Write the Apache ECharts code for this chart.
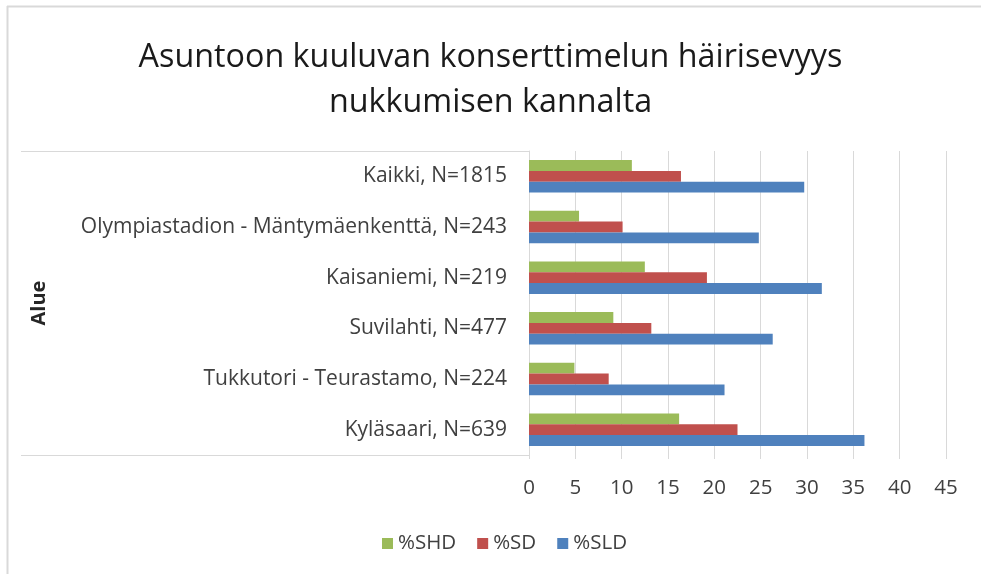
<!DOCTYPE html>
<html>
<head>
<meta charset="utf-8">
<script src="https://cdn.jsdelivr.net/npm/echarts@6/dist/echarts.min.js"></script>
<style>
html,body{margin:0;padding:0;background:#fff;}
#c{width:981px;height:574px;}
</style>
</head>
<body>
<div id="c"></div>
<script>
const categories = [
  'Kaikki, N=1815',
  'Olympiastadion - Mäntymäenkenttä, N=243',
  'Kaisaniemi, N=219',
  'Suvilahti, N=477',
  'Tukkutori - Teurastamo, N=224',
  'Kyläsaari, N=639'
];
const seriesNames = ['%SHD', '%SD', '%SLD'];
const shd = [11.1, 5.4, 12.5, 9.1, 4.9, 16.2];
const sd  = [16.4, 10.1, 19.2, 13.2, 8.6, 22.5];
const sld = [29.7, 24.8, 31.6, 26.3, 21.1, 36.2];
const xTicks = [0, 5, 10, 15, 20, 25, 30, 35, 40, 45];

const colors = ['#9BBB59', '#C0504D', '#4F81BD'];
const FONT = '"Open Sans", "Noto Sans", sans-serif';
const chart = echarts.init(document.getElementById('c'), null, {renderer: 'canvas'});

const borderColor = '#d9d9d9';
chart.setOption({
  animation: false,
  color: colors,
  textStyle: {fontFamily: FONT},
  title: {
    text: 'Asuntoon kuuluvan konserttimelun häirisevyys\nnukkumisen kannalta',
    left: 'center',
    top: 30,
    textStyle: {fontFamily: FONT, fontSize: 32.3, fontWeight: 'normal', color: '#1a1a1a', lineHeight: 45}
  },
  legend: {
    data: seriesNames,
    left: 377,
    top: 528,
    icon: 'rect',
    itemWidth: 11,
    itemHeight: 11,
    itemGap: 21,
    textStyle: {fontFamily: FONT, fontSize: 20.5, color: '#404040'}
  },
  grid: {left: 529, right: 35, top: 151, bottom: 119, containLabel: false},
  xAxis: {
    type: 'value',
    min: xTicks[0],
    max: xTicks[xTicks.length - 1],
    interval: 5,
    axisLine: {show: false},
    axisTick: {show: true, length: 4, lineStyle: {color: borderColor}},
    splitLine: {show: true, lineStyle: {color: borderColor, width: 1}},
    axisLabel: {fontFamily: FONT, fontSize: 20.5, color: '#404040', margin: 23}
  },
  yAxis: {
    type: 'category',
    data: categories,
    inverse: true,
    name: 'Alue',
    nameLocation: 'middle',
    nameRotate: 90,
    nameGap: 480,
    nameTextStyle: {fontFamily: FONT, fontSize: 20, fontWeight: 'bold', color: '#262626'},
    axisLine: {show: true, lineStyle: {color: borderColor, width: 1}},
    axisTick: {show: false},
    axisLabel: {fontFamily: FONT, fontSize: 21, color: '#404040', margin: 22}
  },
  series: [
    {name: seriesNames[0], type: 'bar', data: shd, barGap: '0%', barCategoryGap: '36%'},
    {name: seriesNames[1], type: 'bar', data: sd, barGap: '0%', barCategoryGap: '36%'},
    {name: seriesNames[2], type: 'bar', data: sld, barGap: '0%', barCategoryGap: '36%'}
  ],
  graphic: [
    {type: 'line', shape: {x1: 7, y1: 6.5, x2: 981, y2: 6.5}, style: {stroke: borderColor, lineWidth: 2}, silent: true},
    {type: 'line', shape: {x1: 7.5, y1: 6, x2: 7.5, y2: 574}, style: {stroke: borderColor, lineWidth: 2}, silent: true},
    {type: 'line', shape: {x1: 21, y1: 151.5, x2: 529, y2: 151.5}, style: {stroke: borderColor, lineWidth: 1}, silent: true},
    {type: 'line', shape: {x1: 21, y1: 455.5, x2: 529, y2: 455.5}, style: {stroke: borderColor, lineWidth: 1}, silent: true}
  ]
});
</script>
</body>
</html>
